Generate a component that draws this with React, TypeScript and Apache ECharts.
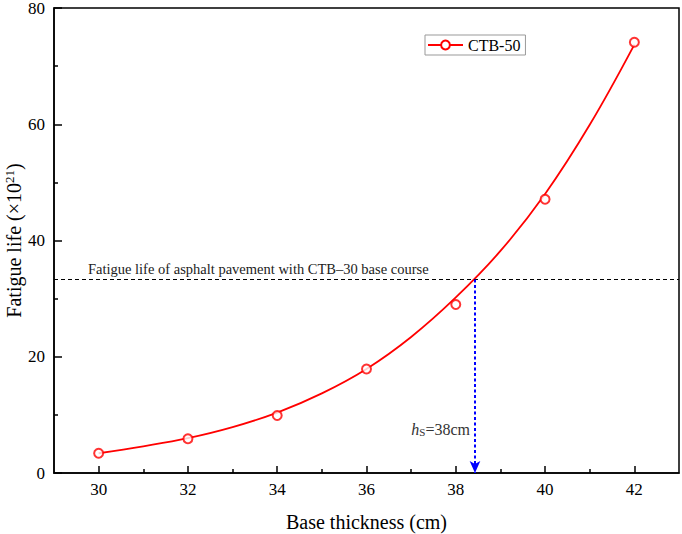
import React, { useEffect, useRef } from "react";
import * as echarts from "echarts";

const pointX = [30, 32, 34, 36, 38, 40, 42];
const pointY = [3.4, 5.9, 9.9, 17.9, 29.0, 47.1, 74.1];
const curveX = [30, 31, 32, 33, 34, 35, 36, 37, 38, 39, 40, 41, 42];
const curveY = [3.4, 4.6, 6.0, 7.9, 10.4, 13.7, 17.9, 23.4, 30.2, 38.2, 48.0, 59.9, 73.7];
const xMajorTicks = [30, 32, 34, 36, 38, 40, 42];
const xMinorTicks = [31, 33, 35, 37, 39, 41];
const ctb30Life = 33.3;
const hsThickness = 38.43;
const hsLabelY = 7;
const noteX = 29.76;

const FONT = "'Liberation Serif', 'Times New Roman', serif";

export default function App() {
  const ref = useRef<HTMLDivElement>(null);
  useEffect(() => {
    if (!ref.current) return;
    document.body.style.margin = "0";
    const chart = echarts.init(ref.current, null, { renderer: "svg" });
    chart.setOption({
      animation: false,
      textStyle: { fontFamily: FONT, color: "#000" },
      grid: {
        left: 54,
        right: 3,
        top: 8,
        bottom: 61,
        containLabel: false,
        outerBoundsMode: "none",
        show: true,
        borderColor: "#000",
        borderWidth: 1.5,
      },
      legend: {
        data: ["CTB-50"],
        left: 425,
        top: 35,
        padding: [2, 5, 2, 2],
        borderColor: "#999",
        borderWidth: 1,
        itemWidth: 35,
        itemHeight: 11,
        itemGap: 4,
        textStyle: { fontFamily: FONT, fontSize: 16, color: "#000" },
      },
      xAxis: [
        {
          type: "value",
          min: 29,
          max: 43,
          position: "bottom",
          name: "Base thickness (cm)",
          nameLocation: "middle",
          nameGap: 39,
          nameMoveOverlap: false,
          nameTextStyle: { fontFamily: FONT, fontSize: 20, color: "#000" },
          axisLine: { show: true, lineStyle: { color: "#000", width: 1.5 } },
          axisTick: {
            show: true,
            inside: true,
            length: 7,
            customValues: xMajorTicks,
            lineStyle: { color: "#000", width: 1.5 },
          },
          axisLabel: {
            customValues: xMajorTicks,
            margin: 8,
            fontFamily: FONT,
            fontSize: 17,
            color: "#000",
          },
          splitLine: { show: false },
        },
        {
          type: "value",
          min: 29,
          max: 43,
          position: "bottom",
          offset: 0,
          axisLine: { show: false },
          axisTick: {
            show: true,
            inside: true,
            length: 4,
            customValues: xMinorTicks,
            lineStyle: { color: "#000", width: 1.5 },
          },
          axisLabel: { show: false },
          splitLine: { show: false },
        },
      ],
      yAxis: {
        type: "value",
        min: 0,
        max: 80,
        interval: 20,
        name: "Fatigue life (×10{sup|21})",
        nameLocation: "middle",
        nameGap: 30,
        nameMoveOverlap: false,
        nameTextStyle: {
          fontFamily: FONT,
          fontSize: 20,
          color: "#000",
          rich: {
            sup: { fontFamily: FONT, fontSize: 13, color: "#000", padding: [0, 0, 8, 0] },
          },
        },
        axisLine: { show: true, lineStyle: { color: "#000", width: 1.5 } },
        axisTick: { show: true, inside: true, length: 8, lineStyle: { color: "#000", width: 1.5 } },
        minorTick: { show: true, splitNumber: 2, length: 4, lineStyle: { color: "#000", width: 1.5 } },
        axisLabel: { margin: 9, fontFamily: FONT, fontSize: 17, color: "#000" },
        splitLine: { show: false },
      },
      series: [
        {
          name: "CTB-50",
          type: "line",
          data: curveX.map((x, i) => [x, curveY[i]]),
          smooth: 0.4,
          symbol: "emptyCircle",
          showSymbol: false,
          lineStyle: { color: "#ff0000", width: 1.8 },
          itemStyle: { color: "#ff0000" },
          markLine: {
            silent: true,
            symbol: "none",
            label: { show: false },
            lineStyle: { color: "#000", type: [4, 3], width: 1 },
            data: [{ yAxis: ctb30Life }],
          },
          z: 2,
        },
        {
          name: "points",
          type: "scatter",
          data: pointX.map((x, i) => [x, pointY[i]]),
          symbol: "emptyCircle",
          symbolSize: 9,
          itemStyle: { color: "#ff0000", borderColor: "#ff0000", borderWidth: 1 },
          z: 3,
          markLine: {
            silent: true,
            symbol: ["none", "arrow"],
            symbolSize: [8, 12],
            label: { show: false },
            lineStyle: { color: "#0000ff", type: [3, 2.5], width: 2 },
            data: [[{ coord: [hsThickness, ctb30Life] }, { coord: [hsThickness, 0] }]],
          },
          markPoint: {
            silent: true,
            symbol: "circle",
            symbolSize: 0,
            data: [
              {
                coord: [noteX, ctb30Life],
                label: {
                  show: true,
                  position: "right",
                  distance: 0,
                  offset: [0, -10],
                  formatter: "Fatigue life of asphalt pavement with CTB–30 base course",
                  fontFamily: FONT,
                  fontSize: 14.5,
                  color: "#222",
                },
              },
              {
                coord: [hsThickness, hsLabelY],
                label: {
                  show: true,
                  position: "left",
                  distance: 5,
                  formatter: "{h|h}{s|S}{t|=38cm}",
                  rich: {
                    h: { fontFamily: FONT, fontSize: 16, fontStyle: "italic", color: "#333", padding: [0, 0, 5, 0] },
                    s: { fontFamily: FONT, fontSize: 11, color: "#333" },
                    t: { fontFamily: FONT, fontSize: 16, color: "#333", padding: [0, 0, 5, 0] },
                  },
                },
              },
            ],
          },
        },
      ],
    });
    return () => chart.dispose();
  }, []);
  return <div ref={ref} style={{ width: 682, height: 534 }} />;
}
